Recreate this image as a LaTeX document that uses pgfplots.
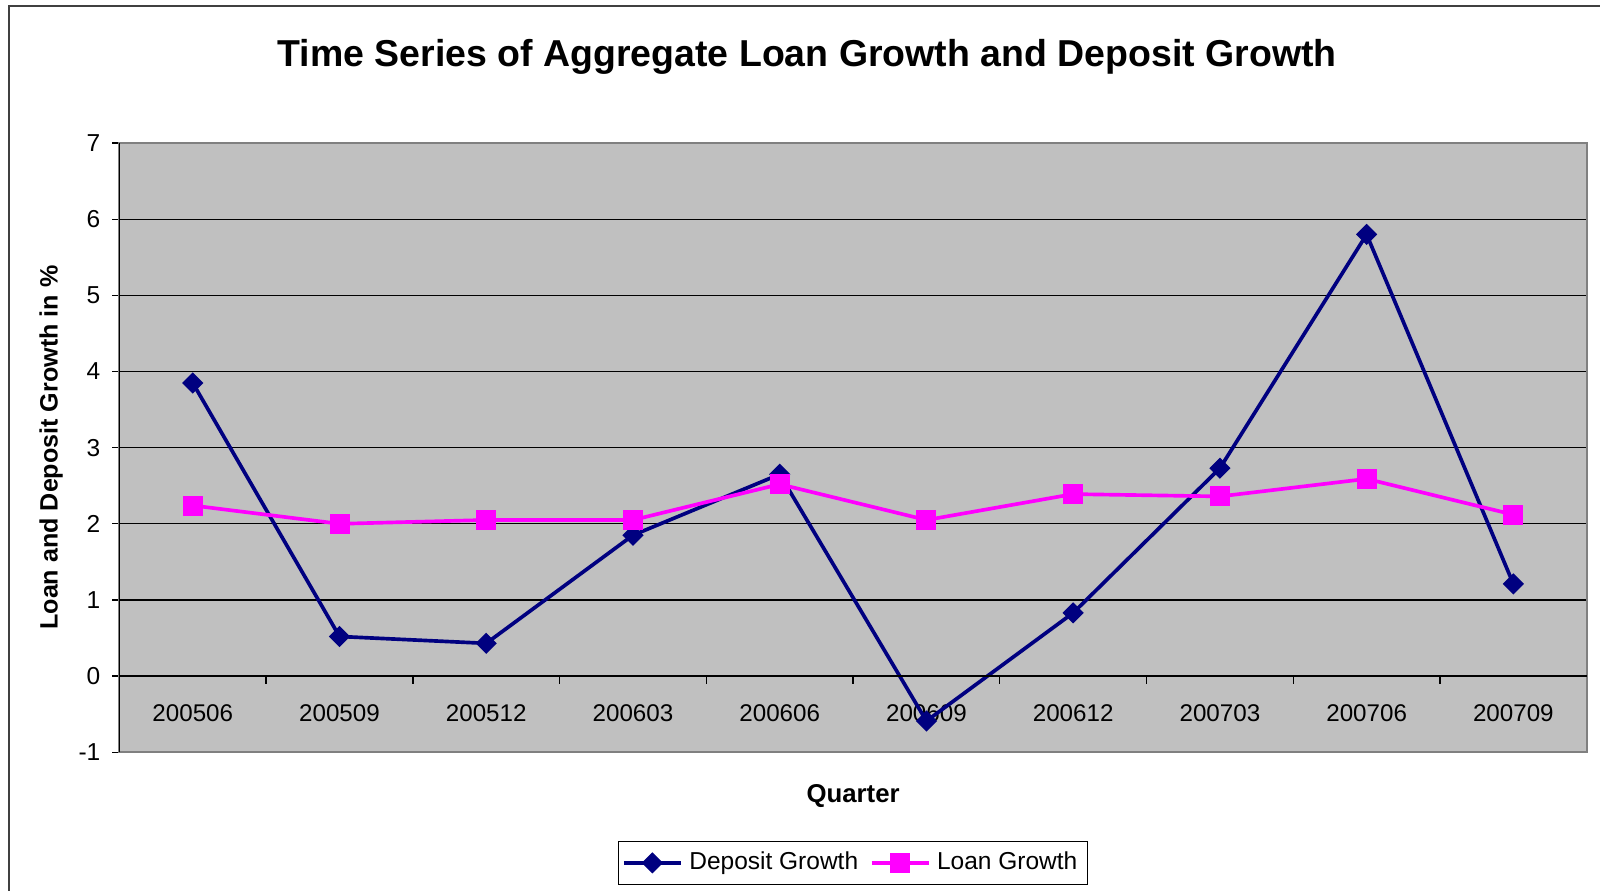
\documentclass[border=0pt]{standalone}
\usepackage{fontspec}
\setmainfont{Liberation Sans}
\usepackage{pgfplots}
\pgfplotsset{compat=1.18}
\definecolor{dep}{RGB}{0,0,128}
\definecolor{loan}{RGB}{255,0,255}
\definecolor{plotbg}{RGB}{192,192,192}
\begin{document}
\begin{tikzpicture}
\draw[line width=0.6pt, black!75] (2.75pt,0pt) -- (2.75pt,265.4pt) -- (480pt,265.4pt);
\begin{axis}[
  at={(35.82pt,41.63pt)}, anchor=south west,
  scale only axis, width=440.2pt, height=182.75pt,
  xmin=-0.5, xmax=9.5, ymin=-1, ymax=7,
  xtick={0,...,9},
  xticklabels={200506,200509,200512,200603,200606,200609,200612,200703,200706,200709},
  x tick style={draw=none},
  xticklabel style={anchor=center, yshift=13.9pt, font=\fontsize{7.25}{8}\selectfont},
  ytick={-1,0,...,7},
  ytick pos=left,
  y tick style={black, line width=0.4pt},
  tick align=outside, major tick length=2.2pt,
  yticklabel style={font=\fontsize{7.35}{8}\selectfont},
  /pgf/number format/assume math mode=true,
  ymajorgrids, grid style={black, line width=0.4pt},
  axis background/.style={fill=plotbg},
  axis line style={draw=gray, line width=0.6pt},
  title={\textbf{Time Series of Aggregate Loan Growth and Deposit Growth}},
  title style={at={(axis description cs:0.5,1)}, anchor=center, yshift=20pt, xshift=-13.8pt, font=\fontsize{11.24}{13}\selectfont},
  xlabel={\textbf{Quarter}},
  xlabel style={at={(axis description cs:0.5,0)}, anchor=center, yshift=-13.2pt, font=\fontsize{7.73}{9}\selectfont},
  ylabel={\textbf{Loan and Deposit Growth in \%}},
  ylabel style={at={(axis description cs:0,0.5)}, anchor=center, yshift=20.5pt, font=\fontsize{7.53}{9}\selectfont},
  legend columns=2,
  legend style={at={(axis description cs:0.5,0)}, anchor=center, yshift=-33.2pt, draw=black, line width=0.4pt, font=\fontsize{7.35}{8.5}\selectfont, inner sep=1pt, /tikz/every even column/.append style={column sep=1.5pt}},
  clip=false,
]
\addplot[dep, line width=1.1pt, mark=square*, mark size=2.05pt, mark options={solid, fill=dep, rotate=45, line width=0.4pt}] coordinates {
(0,3.85) (1,0.52) (2,0.43) (3,1.85) (4,2.65) (5,-0.59) (6,0.83) (7,2.73) (8,5.80) (9,1.21)};
\addlegendentry{Deposit Growth}
\addplot[loan, line width=1.1pt, mark=square*, mark size=2.8pt, mark options={solid, fill=loan, line width=0.4pt}] coordinates {
(0,2.24) (1,2.00) (2,2.05) (3,2.05) (4,2.52) (5,2.05) (6,2.39) (7,2.36) (8,2.59) (9,2.12)};
\addlegendentry{Loan Growth}
\draw[black, line width=0.5pt] (axis cs:-0.5,7) -- (axis cs:-0.5,-1);
\draw[black, line width=0.5pt] (axis cs:-0.5,0) -- (axis cs:9.5,0);
\pgfplotsinvokeforeach{0.5,1.5,2.5,3.5,4.5,5.5,6.5,7.5,8.5}{\draw[black, line width=0.4pt] (axis cs:#1,0) -- ++(0pt,-2.4pt);}
\end{axis}
\pgfresetboundingbox
\useasboundingbox (0pt,0pt) rectangle (480pt,267.3pt);
\end{tikzpicture}
\end{document}
